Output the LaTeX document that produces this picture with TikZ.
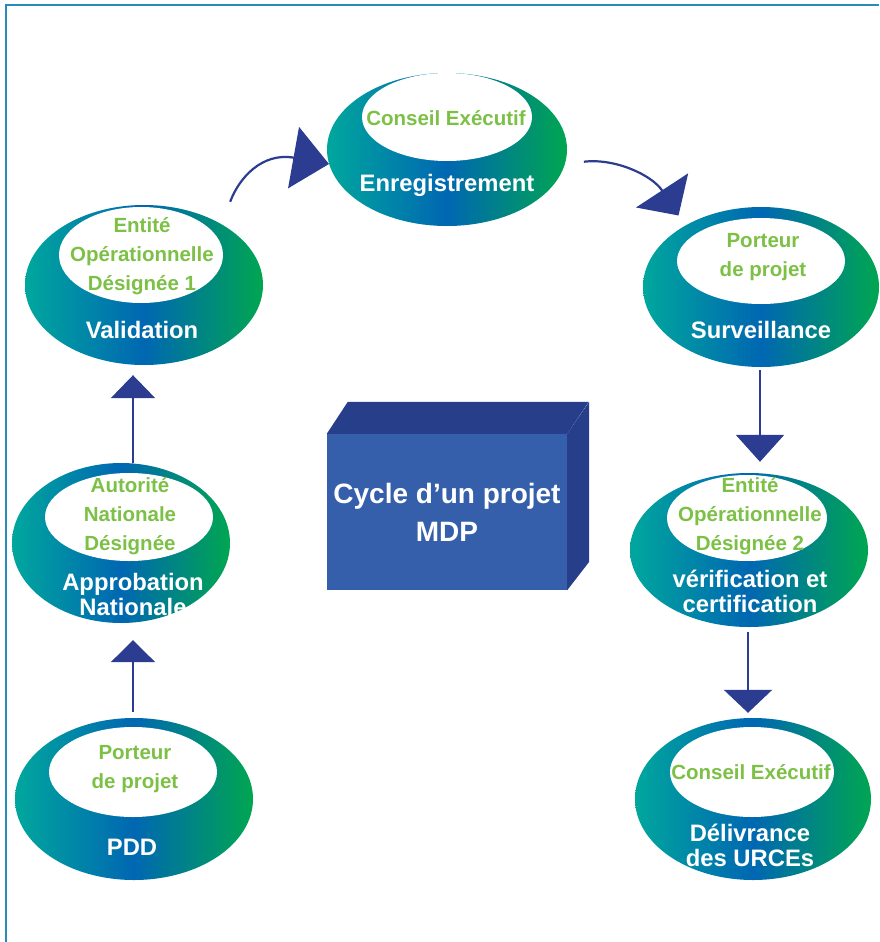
\documentclass[tikz,border=0pt]{standalone}
\usepackage{fontspec}
\setmainfont{Liberation Sans}
\usetikzlibrary{shapes.geometric,arrows.meta}
\definecolor{cteal}{RGB}{0,167,157}
\definecolor{cblue}{RGB}{0,103,178}
\definecolor{cgreen}{RGB}{0,166,81}
\definecolor{tgreen}{RGB}{125,192,70}
\definecolor{arrowblue}{RGB}{43,60,145}
\definecolor{boxfront}{RGB}{53,95,170}
\definecolor{boxdark}{RGB}{39,62,139}
\definecolor{framec}{RGB}{40,140,185}
\pgfdeclarehorizontalshading{ringshade}{100bp}{color(0bp)=(cteal); color(25bp)=(cteal); color(50bp)=(cblue); color(75bp)=(cgreen); color(100bp)=(cgreen)}
\begin{document}
\begin{tikzpicture}[x=1pt,y=-1pt,
  outer/.style={ellipse, shading=ringshade, draw=none, inner sep=0pt},
  innerell/.style={ellipse, fill=white, draw=none, inner sep=0pt},
  gtext/.style={align=center, text=tgreen, inner sep=0pt, font=\fontsize{20.5}{29}\selectfont\bfseries},
  wtext/.style={align=center, text=white, inner sep=0pt, font=\fontsize{23.8}{25}\selectfont\bfseries},
  arr/.style={draw=arrowblue, line width=2.7pt},
  carr/.style={draw=arrowblue, line width=2.2pt}
]
\useasboundingbox (0,0) rectangle (879,942);
\draw[framec, line width=1.6pt] (6,942) -- (6,5) -- (879,5);

% outer rings
\node[outer, minimum width=240pt, minimum height=153pt] (enr) at (447,149.5) {};
\node[outer, minimum width=238pt, minimum height=160pt] (val) at (144,285) {};
\node[outer, minimum width=236pt, minimum height=160pt] (sur) at (761,287) {};
\node[outer, minimum width=218pt, minimum height=160pt] (app) at (121,543) {};
\node[outer, minimum width=238pt, minimum height=162pt] (pdd) at (134,799) {};
\node[outer, minimum width=238pt, minimum height=154pt] (ver) at (749,550) {};
\node[outer, minimum width=236pt, minimum height=162pt] (del) at (753,799) {};

% inner white ellipses
\node[innerell, minimum width=170pt, minimum height=88pt] (enrI) at (447,117) {};
\node[innerell, minimum width=164pt, minimum height=96pt] (valI) at (141,255) {};
\node[innerell, minimum width=168pt, minimum height=86pt] (surI) at (761,261) {};
\node[innerell, minimum width=168pt, minimum height=88pt] (appI) at (129,517) {};
\node[innerell, minimum width=168pt, minimum height=90pt] (pddI) at (133,772) {};
\node[innerell, minimum width=160pt, minimum height=86pt] (verI) at (747,518) {};
\node[innerell, minimum width=164pt, minimum height=90pt] (delI) at (752,772) {};

% green texts
\node[gtext] (enrG) at (446,118) {Conseil Exécutif};
\node[gtext] (valG) at (142,256) {Entité\\Opérationnelle\\Désignée 1};
\node[gtext] (surG) at (763,257) {Porteur\\de projet};
\node[gtext] (appG) at (130,516) {Autorité\\Nationale\\Désignée};
\node[gtext] (pddG) at (135,769) {Porteur\\de projet};
\node[gtext] (verG) at (750,516) {Entité\\Opérationnelle\\Désignée 2};
\node[gtext] (delG) at (751,772) {Conseil Exécutif};

% white texts
\node[wtext] (enrT) at (447,185) {Enregistrement};
\node[wtext] (valT) at (142,330) {Validation};
\node[wtext] (surT) at (761,330) {Surveillance};
\node[wtext] (appT) at (133,594) {Approbation\\Nationale};
\node[wtext] (pddT) at (132,847) {PDD};
\node[wtext] (verT) at (750,591) {vérification et\\certification};
\node[wtext] (delT) at (750,845) {Délivrance\\des URCEs};

% central box
\node[fill=boxfront, minimum width=240pt, minimum height=156pt, inner sep=0pt, text=white, align=center, font=\fontsize{28}{38}\selectfont\bfseries] (cyc) at (447,512) {Cycle d’un projet\\MDP};
\fill[boxdark] (cyc.north west) -- ++(21,-32) -- ++(241,0) -- (cyc.north east) -- cycle;
\fill[boxdark] (cyc.north east) -- ++(22,-32) -- ++(0,160) -- (cyc.south east) -- cycle;

% arrows
\coordinate (xa) at (133,0);
\coordinate (xb) at (760,0);
\coordinate (xc) at (748,0);
\draw[arr, -{Triangle[width=44pt,length=22pt]}, shorten <=6pt, shorten >=17pt] (xa |- pdd.north) -- (xa |- app.south);
\draw[arr, -{Triangle[width=44pt,length=23pt]}, shorten >=10pt] (xa |- app.north) -- (xa |- val.south);
\draw[arr, -{Triangle[width=48pt,length=27pt]}, shorten <=3pt, shorten >=11pt] (xb |- sur.south) -- (xb |- ver.north);
\draw[arr, -{Triangle[width=48pt,length=23pt]}, shorten <=5pt, shorten >=5pt] (xc |- ver.south) -- (xc |- del.north);
\draw[carr, -{Triangle[width=62pt,length=36pt]}, shorten <=24pt] (val.38) .. controls (239,178) and (262,152) .. (enr.187);
\draw[carr, -{Triangle[width=62pt,length=30pt]}, shorten <=19pt, shorten >=12pt] (enr.353) .. controls (615,158) and (652,175) .. (sur.141);
\end{tikzpicture}
\end{document}
